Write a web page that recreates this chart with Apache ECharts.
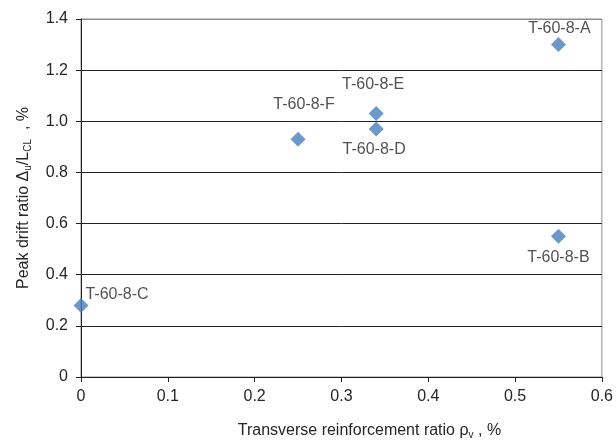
<!DOCTYPE html>
<html>
<head>
<meta charset="utf-8">
<script src="https://cdn.jsdelivr.net/npm/echarts@6/dist/echarts.min.js"></script>
<style>
  html, body { margin: 0; padding: 0; background: #fff; }
  #chart { width: 616px; height: 445px; }
</style>
</head>
<body>
<div id="chart"></div>
<script>
// Specimen names, transverse reinforcement ratio (%) and peak drift ratio (%)
const specimens = ['T-60-8-A', 'T-60-8-B', 'T-60-8-C', 'T-60-8-D', 'T-60-8-E', 'T-60-8-F'];
const rhoV = [0.55, 0.55, 0.00, 0.34, 0.34, 0.25];
const peakDrift = [1.30, 0.55, 0.28, 0.97, 1.03, 0.93];
const xTicks = ['0', '0.1', '0.2', '0.3', '0.4', '0.5', '0.6'];
const yTicks = ['0', '0.2', '0.4', '0.6', '0.8', '1.0', '1.2', '1.4'];

// label offsets (px) from each marker centre
const labelOffsets = [[1, -16], [0, 21], [36, -11], [-2, 21], [-3, -29], [6, -35]];

const FONT = '"Liberation Sans", Arial, sans-serif';
const TEXT = '#262626';

const points = specimens.map((name, i) => ({
  name: name,
  value: [rhoV[i], peakDrift[i]],
  label: { position: 'inside', offset: labelOffsets[i] }
}));

const subStyle = { fontSize: 10, verticalAlign: 'bottom', padding: [8, 0, 0, 0], fontFamily: FONT, color: TEXT };

const chart = echarts.init(document.getElementById('chart'), null, { renderer: 'canvas' });
chart.setOption({
  animation: false,
  grid: {
    left: 81, right: 10, top: 19, bottom: 67,
    show: true, borderColor: '#8c8c8c', borderWidth: 1
  },
  xAxis: {
    type: 'value', min: 0, max: 0.6, interval: 0.1,
    name: 'Transverse reinforcement ratio ρ{sub|v} , %',
    nameLocation: 'middle', nameGap: 45,
    nameTextStyle: {
      color: TEXT, fontFamily: FONT, fontSize: 16,
      padding: [0, 0, 0, 56],
      rich: { sub: subStyle }
    },
    axisLine: { lineStyle: { color: '#222' } },
    axisTick: { show: true, inside: false, length: 5, lineStyle: { color: '#222' } },
    axisLabel: {
      color: TEXT, fontFamily: FONT, fontSize: 16, margin: 12,
      formatter: (v) => xTicks[Math.round(v * 10)]
    },
    splitLine: { show: false }
  },
  yAxis: {
    type: 'value', min: 0, max: 1.4, interval: 0.2,
    name: 'Peak drift ratio Δ{sub|u}/L{sub|CL}  , %',
    nameLocation: 'middle', nameGap: 48, nameRotate: 90,
    nameTextStyle: { color: TEXT, fontFamily: FONT, fontSize: 16, rich: { sub: subStyle } },
    axisLine: { show: true, lineStyle: { color: '#222' } },
    axisTick: { show: true, inside: false, length: 5, lineStyle: { color: '#222' } },
    axisLabel: {
      color: TEXT, fontFamily: FONT, fontSize: 16, margin: 13,
      formatter: (v) => yTicks[Math.round(v * 5)]
    },
    splitLine: {
      show: true,
      lineStyle: { color: ['#222', '#222', '#222', '#222', '#222', '#222', '#222', '#8c8c8c'], width: 1 }
    }
  },
  series: [{
    type: 'scatter',
    symbol: 'diamond',
    symbolSize: 15,
    itemStyle: { color: '#4A7EBB' },
    label: {
      show: true,
      formatter: (p) => p.name,
      color: TEXT, fontFamily: FONT, fontSize: 16
    },
    data: points
  }]
});
</script>
</body>
</html>
